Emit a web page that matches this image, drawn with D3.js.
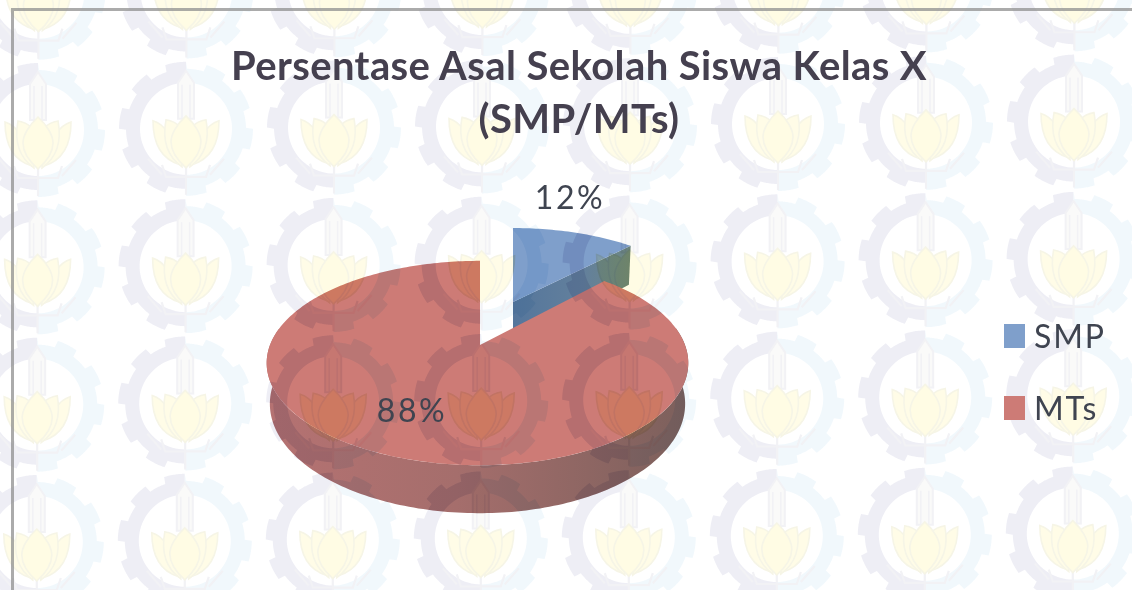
<!DOCTYPE html>
<html>
<head>
<meta charset="utf-8">
<script src="https://cdn.jsdelivr.net/npm/d3@7"></script>
<style>
  html, body { margin: 0; padding: 0; background: #fff; overflow: hidden; }
  svg { display: block; filter: blur(0.45px); }
  text { font-family: Lato, "Open Sans", sans-serif; }
</style>
</head>
<body>
<svg id="chart" width="1132" height="590"></svg>
<script>
const categories = ['SMP', 'MTs'];
const seriesValues = [12, 88];
const percentLabels = ['12%', '88%'];
const titleLines = ['Persentase Asal Sekolah Siswa Kelas X', '(SMP/MTs)'];
const sliceColors = ['#7f9fcb', '#cd7b76'];

const svg = d3.select('#chart');
const defs = svg.append('defs');

// perspective of the tilted pie: k makes the near side bigger than the far side
const k = 0.1765;
const frames = [
  {x: 513, y: 302, rxL: 194, rxR: 194, ry: 87, depth: 44},   // SMP is pulled out of the pie
  {x: 480, y: 345, rxL: 210, rxR: 205, ry: 99, depth: 39.5}
];

function project(frame, angle, drop) {
  const u = Math.sin(angle), v = Math.cos(angle);
  const s = 1 / (1 + k * v);
  const shrink = drop ? 0.985 : 1;
  return [
    frame.x + (u > 0 ? frame.rxR : frame.rxL) * u * s * shrink,
    frame.y - frame.ry * v * s + (drop ? frame.depth * s : 0)
  ];
}

function arcPoints(frame, a0, a1, drop) {
  const n = Math.max(2, Math.ceil((a1 - a0) / 0.02));
  return d3.range(n + 1).map(i => project(frame, a0 + (a1 - a0) * i / n, drop));
}

const line = d3.line().curve(d3.curveLinear);
const rad = d => d * Math.PI / 180;

const slices = d3.pie().sort(null)(seriesValues);

// background emblem, repeated over the whole picture
function ring(rOuterFn, rInner) {
  const outer = d3.range(0, 360, 1).map(a => {
    const r = rOuterFn(a);
    return [r * Math.sin(rad(a)), -r * Math.cos(rad(a))];
  });
  const inner = d3.range(0, 360, 4).map(a => [rInner * Math.sin(rad(a)), -rInner * Math.cos(rad(a))]);
  return line(outer) + 'Z' + line(inner) + 'Z';
}
const toothCount = 10;
const gearPath = ring(a => {
  const t = ((a + 18) % (360 / toothCount)) / (360 / toothCount);
  return t < 0.52 ? 67 : 60;
}, 46);

defs.append('clipPath').attr('id', 'halfL').append('rect')
  .attr('x', -80).attr('y', -80).attr('width', 80).attr('height', 160);
defs.append('clipPath').attr('id', 'halfR').append('rect')
  .attr('x', 0).attr('y', -80).attr('width', 80).attr('height', 160);

const emblem = defs.append('g').attr('id', 'emblem');
emblem.append('path').attr('d', gearPath).attr('fill-rule', 'evenodd')
  .attr('fill', '#e3e3ef').attr('clip-path', 'url(#halfL)');
emblem.append('path').attr('d', gearPath).attr('fill-rule', 'evenodd')
  .attr('fill', '#e8f4fb').attr('clip-path', 'url(#halfR)');
// base under the flower
const lineCol = '#e9e9ef';
emblem.append('path')
  .attr('d', 'M-24,36 L-20,48 L20,48 L24,36 M0,36 V66 M-38,30 L-24,46 M38,30 L24,46')
  .attr('fill', 'none').attr('stroke', lineCol).attr('stroke-width', 2.2);
// tower
emblem.append('path')
  .attr('d', 'M-8,-46 L0,-58 L8,-46 L8,-10 L-8,-10 Z')
  .attr('fill', '#f7f7f5').attr('stroke', lineCol).attr('stroke-width', 2);
emblem.append('path').attr('d', 'M-4,-44 V-10 M4,-44 V-10').attr('stroke', lineCol).attr('stroke-width', 1.5);
// flower petals
const petalFill = '#fffbd8', petalLine = '#f0eed6';
[-1, 1].forEach(side => {
  emblem.append('path')
    .attr('d', `M${side * 6},36 C${side * 26},30 ${side * 33},14 ${side * 33},-8 C${side * 26},-6 ${side * 22},-2 ${side * 18},4 Z`)
    .attr('fill', petalFill).attr('stroke', petalLine).attr('stroke-width', 1.6);
  emblem.append('path')
    .attr('d', `M${side * 4},38 C${side * 18},28 ${side * 24},12 ${side * 20},-9 C${side * 14},-8 ${side * 10},-6 ${side * 6},-2 Z`)
    .attr('fill', petalFill).attr('stroke', petalLine).attr('stroke-width', 1.6);
});
emblem.append('path')
  .attr('d', 'M0,-13 C10,-4 15,6 15,13 C15,24 8,32 0,39 C-8,32 -15,24 -15,13 C-15,6 -10,-4 0,-13 Z')
  .attr('fill', '#fffad2').attr('stroke', petalLine).attr('stroke-width', 1.6);

const gridCols = [0, 1, 2, 3, 4, 5, 6, 7];
const gridRows = [-1, 0, 1, 2, 3];
const xGrid = d3.scaleLinear().domain([0, 7]).range([38, 1074]);
const yGrid = d3.scaleLinear().domain([0, 3]).range([130, 542]);
const cells = d3.cross(gridCols, gridRows);

function drawWatermark(parent) {
  parent.selectAll('use').data(cells).join('use')
    .attr('href', '#emblem')
    .attr('transform', d => `translate(${xGrid(d[0]) + d[1] * -0.4},${yGrid(d[1]) - d[0] * 1.2})`);
}

// pale copy on the paper
drawWatermark(svg.append('g').attr('class', 'watermark').attr('opacity', 0.6));

// gradients for the walls
function wallGradient(id, stops) {
  const g = defs.append('linearGradient').attr('id', id)
    .attr('x1', '0%').attr('x2', '100%').attr('y1', '0%').attr('y2', '0%');
  stops.forEach(s => g.append('stop').attr('offset', s[0]).attr('stop-color', s[1]));
}
wallGradient('wallRed', [['0%', '#b57272'], ['45%', '#a56e6c'], ['100%', '#7c605c']]);
wallGradient('wallBlue', [['0%', '#55769c'], ['60%', '#63809c'], ['100%', '#6e8780']]);

const pieLayer = svg.append('g').attr('class', 'pie');
const pieClip = defs.append('clipPath').attr('id', 'pieClip');

function addShape(d, fill) {
  pieLayer.append('path').attr('d', d).attr('fill', fill);
  pieClip.append('path').attr('d', d);
}

// SMP first, MTs sits in front of it
{
  const d = slices[0], f = frames[0];
  const corner = project(f, d.endAngle, false);
  const cornerLow = project(f, d.endAngle, true);
  const apex = [f.x, f.y];
  addShape(line([apex, corner, cornerLow, [f.x, f.y + f.depth]]) + 'Z', 'url(#wallBlue)');
  addShape(line([apex].concat(arcPoints(f, d.startAngle, d.endAngle, false))) + 'Z', sliceColors[0]);
}
{
  const d = slices[1], f = frames[1];
  const a0 = Math.max(d.startAngle, rad(80)), a1 = Math.min(d.endAngle, rad(280));
  const wall = arcPoints(f, a0, a1, false).concat(arcPoints(f, a0, a1, true).reverse());
  addShape(line(wall) + 'Z', 'url(#wallRed)');
  addShape(line([[f.x, f.y]].concat(arcPoints(f, d.startAngle, d.endAngle, false))) + 'Z', sliceColors[1]);
}

// the watermark also shows through the pie, stronger there
drawWatermark(svg.append('g').attr('clip-path', 'url(#pieClip)').style('mix-blend-mode', 'multiply'));

// chart frame, cut off by the crop at the right and the bottom
svg.append('path')
  .attr('d', 'M12.5,590 V9.5 H1132')
  .attr('fill', 'none').attr('stroke', '#8f8f8f').attr('stroke-opacity', 0.75).attr('stroke-width', 3);

// title
svg.append('g').selectAll('text').data(titleLines).join('text')
  .attr('x', 579)
  .attr('y', (d, i) => 80 + i * 53)
  .attr('text-anchor', 'middle')
  .attr('font-size', 40)
  .attr('letter-spacing', 0.4)
  .attr('font-weight', 700)
  .attr('fill', '#45404f')
  .text(d => d);

// percent labels
const labelPos = [[570, 209], [412, 422]];
svg.append('g').selectAll('text').data(percentLabels).join('text')
  .attr('x', (d, i) => labelPos[i][0])
  .attr('y', (d, i) => labelPos[i][1])
  .attr('text-anchor', 'middle')
  .attr('font-size', 32)
  .attr('letter-spacing', 2.5)
  .attr('fill', '#3f4450')
  .text(d => d);

// legend
const legendY = d3.scalePoint().domain(categories).range([336, 408]);
const legend = svg.append('g').selectAll('g').data(categories).join('g')
  .attr('transform', d => `translate(1004,${legendY(d)})`);
legend.append('rect')
  .attr('y', -12).attr('width', 21).attr('height', 24)
  .attr('fill', (d, i) => sliceColors[i]);
legend.append('text')
  .attr('x', 30).attr('y', 12)
  .attr('font-size', 32)
  .attr('letter-spacing', 1.8)
  .attr('fill', '#3f4450')
  .text(d => d);
</script>
</body>
</html>
